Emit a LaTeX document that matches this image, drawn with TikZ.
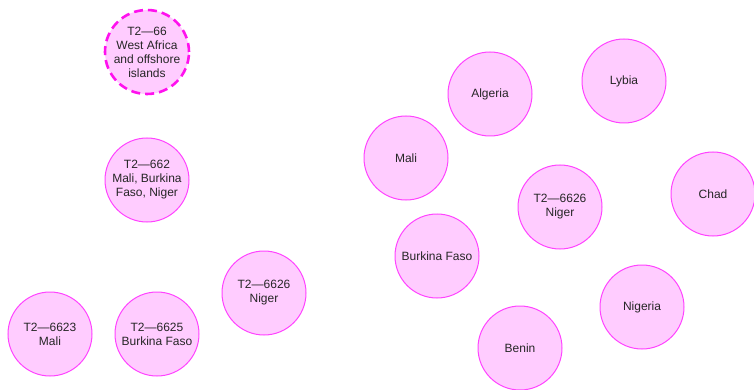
\documentclass[tikz,border=0pt]{standalone}
\usepackage{fontspec}
\setmainfont{Liberation Sans}
\definecolor{nodefill}{HTML}{FFCCFF}
\definecolor{nodeline}{HTML}{FF44FF}
\definecolor{dashline}{HTML}{FF11EE}
\begin{document}
\begin{tikzpicture}[x=1pt,y=-1pt,
  topic/.style={circle,draw=nodeline,fill=nodefill,line width=1pt,minimum size=84pt,inner sep=0pt,
    align=center,font=\fontsize{12}{14}\selectfont,text=black!85},
  broad/.style={topic,draw=dashline,line width=2.6pt,dash pattern=on 9pt off 5pt}]
\useasboundingbox (0,0) rectangle (754,390);
\node[broad] (wa) at (147,52) {T2—66\\West Africa\\and offshore\\islands};
\node[topic] (t662) at (147,180) {T2—662\\Mali, Burkina\\Faso, Niger};
\node[topic] (t6623) at (50,334) {T2—6623\\Mali};
\node[topic] (t6625) at (157,334) {T2—6625\\Burkina Faso};
\node[topic] (t6626a) at (264,293) {T2—6626\\Niger};
\node[topic] (mali) at (406,158) {Mali};
\node[topic] (algeria) at (490,94) {Algeria};
\node[topic] (lybia) at (624,81) {Lybia};
\node[topic] (t6626b) at (560,207) {T2—6626\\Niger};
\node[topic] (chad) at (713,194) {Chad};
\node[topic] (bf) at (437,256) {Burkina Faso};
\node[topic] (nigeria) at (642,307) {Nigeria};
\node[topic] (benin) at (520,348) {Benin};
\end{tikzpicture}
\end{document}
